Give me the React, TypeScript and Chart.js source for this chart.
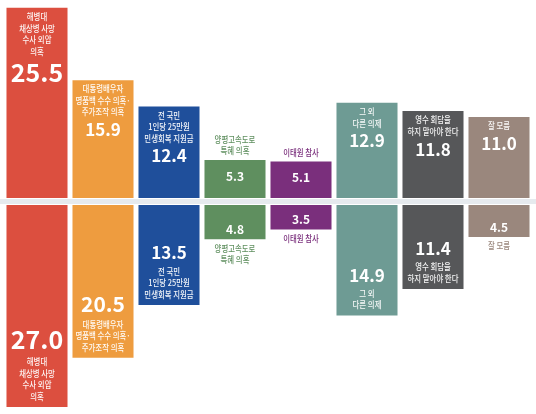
import { useEffect, useRef } from 'react'
import { Chart, registerables } from 'chart.js'
Chart.register(...registerables)

// 8개 응답 항목 (위: 1차 조사, 아래: 2차 조사)
const categories: string[][] = [
    ['해병대', '채상병 사망', '수사 외압', '의혹'],
    ['대통령배우자', '명품백 수수 의혹·', '주가조작 의혹'],
    ['전 국민', '1인당 25만원', '민생회복 지원금'],
    ['양평고속도로', '특혜 의혹'],
    ['이태원 참사'],
    ['그 외', '다른 의제'],
    ['영수 회담을', '하지 말아야 한다'],
    ['잘 모름'],
]
const topValues = [25.5, 15.9, 12.4, 5.3, 5.1, 12.9, 11.8, 11.0]
const bottomValues = [27.0, 20.5, 13.5, 4.8, 3.5, 14.9, 11.4, 4.5]
const colors = ['#dc4f3f', '#ee9c3f', '#1f4f9b', '#5f8f5f', '#7a2f7c', '#6e9b94', '#565759', '#9a877d']

const FONT = '"Noto Sans CJK KR", "Noto Sans", sans-serif'
const LINE = 11.5

function numSize(v: number) {
    if (v >= 24) return 25
    if (v >= 18) return 21
    if (v >= 8) return 17
    return 12
}

function labelPlugin(side: 'top' | 'bottom', values: number[]) {
    return {
        id: 'barLabels',
        afterDatasetsDraw(chart: Chart) {
            const ctx = chart.ctx
            const meta = chart.getDatasetMeta(0)
            ctx.save()
            ctx.textAlign = 'center'
            ctx.textBaseline = 'middle'
            meta.data.forEach((bar: any, i: number) => {
                const { x, y, base } = bar.getProps(['x', 'y', 'base'], true)
                const v = values[i]
                const lines = categories[i]
                const n = lines.length
                const size = numSize(v)
                const small = v < 8
                const top = Math.min(y, base)
                const bottom = Math.max(y, base)
                const drawLines = (ys: number[], color: string) => {
                    ctx.font = `500 8.6px ${FONT}`
                    ctx.fillStyle = color
                    lines.forEach((t, k) => {
                        ctx.save()
                        ctx.translate(x, ys[k])
                        ctx.scale(0.86, 1)
                        ctx.fillText(t, 0, 0)
                        ctx.restore()
                    })
                }
                const drawNum = (cy: number) => {
                    ctx.font = `bold ${size}px ${FONT}`
                    ctx.fillStyle = '#ffffff'
                    ctx.fillText(v.toFixed(1), x, cy)
                }
                if (side === 'top') {
                    if (small) {
                        drawLines(lines.map((_, k) => top - 8 - (n - 1 - k) * LINE), colors[i])
                        drawNum(top + 17)
                    } else {
                        const ys = lines.map((_, k) => top + 10 + k * LINE)
                        drawLines(ys, 'rgba(255,255,255,0.94)')
                        drawNum(ys[n - 1] + size * 0.5 + 9)
                    }
                } else {
                    if (small) {
                        drawNum(Math.max(top + 9, bottom - 11))
                        drawLines(lines.map((_, k) => bottom + 8 + k * 11), colors[i])
                    } else {
                        const ys = lines.map((_, k) => bottom - 11.5 - (n - 1 - k) * LINE)
                        drawLines(ys, 'rgba(255,255,255,0.94)')
                        drawNum(ys[0] - size * 0.5 - 10)
                    }
                }
            })
            ctx.restore()
        },
    }
}

function HalfChart({ side, values, max }: { side: 'top' | 'bottom'; values: number[]; max: number }) {
    const canvasRef = useRef<HTMLCanvasElement>(null)
    const chartRef = useRef<Chart | null>(null)

    useEffect(() => {
        if (!canvasRef.current) return
        const ctx = canvasRef.current.getContext('2d')!
        chartRef.current?.destroy()
        chartRef.current = new Chart(ctx, {
            type: 'bar',
            data: {
                labels: categories.map(c => c.join(' ')),
                datasets: [{
                    data: values,
                    backgroundColor: colors,
                    borderColor: 'rgba(255,255,255,0.3)',
                    borderWidth: 1,
                    borderSkipped: false,
                    barPercentage: 0.955,
                    categoryPercentage: 1,
                }],
            },
            options: {
                responsive: true, maintainAspectRatio: false, animation: false,
                layout: { padding: { left: 4, right: 4, top: 0, bottom: 0 } },
                plugins: { legend: { display: false }, tooltip: { enabled: false } },
                scales: {
                    x: { display: false },
                    y: { display: false, min: 0, max, reverse: side === 'bottom' },
                },
            },
            plugins: [labelPlugin(side, values)],
        })
        return () => chartRef.current?.destroy()
    }, [side, values, max])

    return <canvas ref={canvasRef} />
}

export default function App() {
    return (
        <div style={{ position: 'fixed', left: 0, top: 0, width: 536, height: 414, background: '#fff', fontFamily: FONT }}>
            <div style={{ position: 'absolute', left: 0, top: 0, width: 536, height: 199 }}>
                <HalfChart side="top" values={topValues} max={26.4} />
            </div>
            <div style={{ position: 'absolute', left: 0, top: 199, width: 536, height: 5, background: '#e6eaee' }} />
            <div style={{ position: 'absolute', left: 0, top: 204, width: 536, height: 210 }}>
                <HalfChart side="bottom" values={bottomValues} max={27.8} />
            </div>
        </div>
    )
}
